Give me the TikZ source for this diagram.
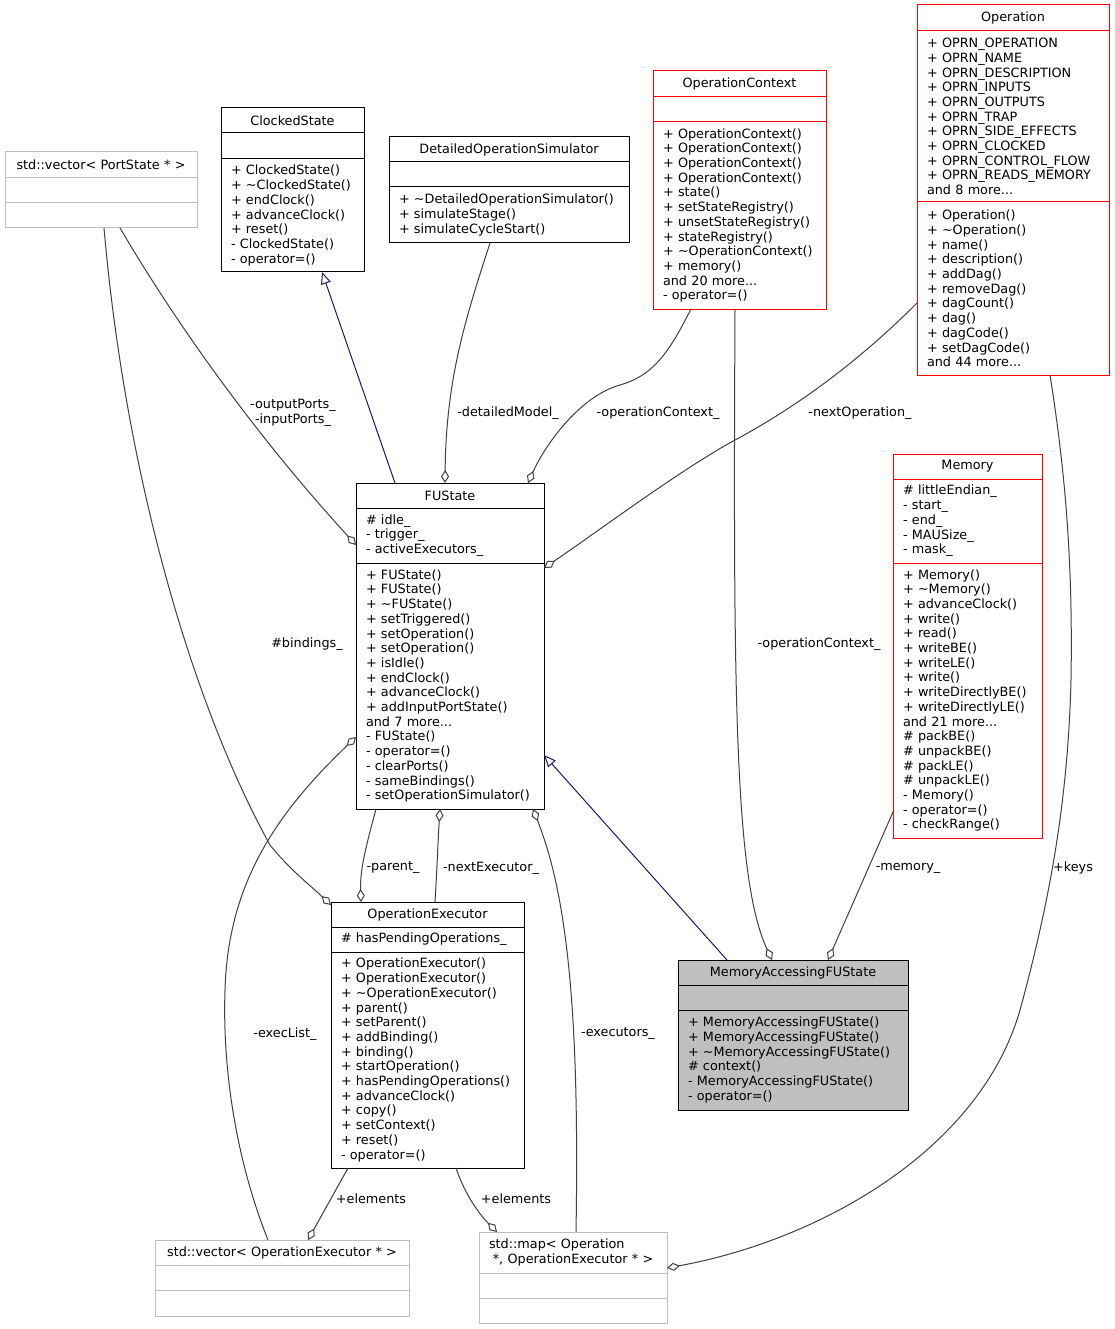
\documentclass[tikz,border=0pt]{standalone}
\usepackage{fontspec}
\setmainfont{DejaVu Sans}
\usepackage{xcolor}
\usepackage{tikz}
\usetikzlibrary{arrows.meta}

\definecolor{edgegray}{HTML}{404040}
\definecolor{boxgray}{HTML}{BFBFBF}
\definecolor{inhblue}{HTML}{191970}

\tikzset{
	clspart/.style={draw, line width=1pt, anchor=north west, outer sep=0pt, inner xsep=10pt, inner ysep=0pt, align=left},
	clsname/.style={clspart, align=center},
	agg/.style={draw=edgegray, line width=1pt, -{Diamond[open, length=13pt, width=8pt]}},
	inherit/.style={draw=inhblue, line width=1pt, -{Triangle[open, length=12pt, width=10pt]}},
	lbl/.style={inner sep=0pt, align=center}
}

\begin{document}
\begin{tikzpicture}[x=1pt, y=-1pt, every node/.style={font=\fontsize{12.8}{14.7}\selectfont}]
	\useasboundingbox (0,0) rectangle (1114,1329);

	%ClockedState
	\node[clsname, text width=123pt, minimum height=25pt] (clk) at (221,108) {ClockedState};
	\node[clspart, text width=123pt, minimum height=26pt] (clk-a) at (clk.south west) {};
	\node[clspart, text width=123pt, minimum height=113pt] (clk-m) at (clk-a.south west) {+ ClockedState()\\+ \textasciitilde ClockedState()\\+ endClock()\\+ advanceClock()\\+ reset()\\- ClockedState()\\- operator=()};

	%std::vector< PortState * >
	\node[clsname, draw=boxgray, text width=172pt, minimum height=26pt] (vps) at (5,152) {std::vector< PortState * >};
	\node[clspart, draw=boxgray, text width=172pt, minimum height=25pt] (vps-a) at (vps.south west) {};
	\node[clspart, draw=boxgray, text width=172pt, minimum height=25pt] (vps-m) at (vps-a.south west) {};

	%DetailedOperationSimulator
	\node[clsname, text width=220pt, minimum height=25pt] (dos) at (389,137) {DetailedOperationSimulator};
	\node[clspart, text width=220pt, minimum height=25pt] (dos-a) at (dos.south west) {};
	\node[clspart, text width=220pt, minimum height=56pt] (dos-m) at (dos-a.south west) {+ \textasciitilde DetailedOperationSimulator()\\+ simulateStage()\\+ simulateCycleStart()};

	%OperationContext
	\node[clsname, draw=red, text width=153pt, minimum height=26pt] (opc) at (653,71) {OperationContext};
	\node[clspart, draw=red, text width=153pt, minimum height=25pt] (opc-a) at (opc.south west) {};
	\node[clspart, draw=red, text width=153pt, minimum height=187pt] (opc-m) at (opc-a.south west) {+ OperationContext()\\+ OperationContext()\\+ OperationContext()\\+ OperationContext()\\+ state()\\+ setStateRegistry()\\+ unsetStateRegistry()\\+ stateRegistry()\\+ \textasciitilde OperationContext()\\+ memory()\\and 20 more...\\- operator=()};

	%Operation
	\node[clsname, draw=red, text width=172pt, minimum height=26pt] (op) at (917,5) {Operation};
	\node[clspart, draw=red, text width=172pt, minimum height=171pt] (op-a) at (op.south west) {+ OPRN\_OPERATION\\+ OPRN\_NAME\\+ OPRN\_DESCRIPTION\\+ OPRN\_INPUTS\\+ OPRN\_OUTPUTS\\+ OPRN\_TRAP\\+ OPRN\_SIDE\_EFFECTS\\+ OPRN\_CLOCKED\\+ OPRN\_CONTROL\_FLOW\\+ OPRN\_READS\_MEMORY\\and 8 more...};
	\node[clspart, draw=red, text width=172pt, minimum height=173pt] (op-m) at (op-a.south west) {+ Operation()\\+ \textasciitilde Operation()\\+ name()\\+ description()\\+ addDag()\\+ removeDag()\\+ dagCount()\\+ dag()\\+ dagCode()\\+ setDagCode()\\and 44 more...};

	%FUState
	\node[clsname, text width=168pt, minimum height=25pt] (fus) at (356,483) {FUState};
	\node[clspart, text width=168pt, minimum height=55pt] (fus-a) at (fus.south west) {\# idle\_\\- trigger\_\\- activeExecutors\_};
	\node[clspart, text width=168pt, minimum height=246pt] (fus-m) at (fus-a.south west) {+ FUState()\\+ FUState()\\+ \textasciitilde FUState()\\+ setTriggered()\\+ setOperation()\\+ setOperation()\\+ isIdle()\\+ endClock()\\+ advanceClock()\\+ addInputPortState()\\and 7 more...\\- FUState()\\- operator=()\\- clearPorts()\\- sameBindings()\\- setOperationSimulator()};

	%Memory
	\node[clsname, draw=red, text width=129pt, minimum height=25pt] (mem) at (893,454) {Memory};
	\node[clspart, draw=red, text width=129pt, minimum height=84pt] (mem-a) at (mem.south west) {\# littleEndian\_\\- start\_\\- end\_\\- MAUSize\_\\- mask\_};
	\node[clspart, draw=red, text width=129pt, minimum height=275pt] (mem-m) at (mem-a.south west) {+ Memory()\\+ \textasciitilde Memory()\\+ advanceClock()\\+ write()\\+ read()\\+ writeBE()\\+ writeLE()\\+ write()\\+ writeDirectlyBE()\\+ writeDirectlyLE()\\and 21 more...\\\# packBE()\\\# unpackBE()\\\# packLE()\\\# unpackLE()\\- Memory()\\- operator=()\\- checkRange()};

	%OperationExecutor
	\node[clsname, text width=173pt, minimum height=25pt] (oe) at (331,902) {OperationExecutor};
	\node[clspart, text width=173pt, minimum height=25pt] (oe-a) at (oe.south west) {\# hasPendingOperations\_};
	\node[clspart, text width=173pt, minimum height=216pt] (oe-m) at (oe-a.south west) {+ OperationExecutor()\\+ OperationExecutor()\\+ \textasciitilde OperationExecutor()\\+ parent()\\+ setParent()\\+ addBinding()\\+ binding()\\+ startOperation()\\+ hasPendingOperations()\\+ advanceClock()\\+ copy()\\+ setContext()\\+ reset()\\- operator=()};

	%MemoryAccessingFUState
	\node[clsname, fill=boxgray, text width=210pt, minimum height=25pt] (mafu) at (678,960) {MemoryAccessingFUState};
	\node[clspart, fill=boxgray, text width=210pt, minimum height=25pt] (mafu-a) at (mafu.south west) {};
	\node[clspart, fill=boxgray, text width=210pt, minimum height=100pt] (mafu-m) at (mafu-a.south west) {+ MemoryAccessingFUState()\\+ MemoryAccessingFUState()\\+ \textasciitilde MemoryAccessingFUState()\\\# context()\\- MemoryAccessingFUState()\\- operator=()};

	%std::vector< OperationExecutor * >
	\node[clsname, draw=boxgray, text width=234pt, minimum height=25pt] (voe) at (155,1240) {std::vector< OperationExecutor * >};
	\node[clspart, draw=boxgray, text width=234pt, minimum height=25pt] (voe-a) at (voe.south west) {};
	\node[clspart, draw=boxgray, text width=234pt, minimum height=26pt] (voe-m) at (voe-a.south west) {};

	%std::map< Operation *, OperationExecutor * >
	\node[clspart, draw=boxgray, text width=168pt, minimum height=41pt] (map) at (479,1232) {std::map< Operation\\\hspace{0.3em}*, OperationExecutor * >};
	\node[clspart, draw=boxgray, text width=168pt, minimum height=25pt] (map-a) at (map.south west) {};
	\node[clspart, draw=boxgray, text width=168pt, minimum height=25pt] (map-m) at (map-a.south west) {};

	%Inheritance
	\draw[inherit] ([xshift=39pt]fus.north west) -- ([xshift=101pt]clk-m.south west);
	\draw[inherit] ([xshift=49pt]mafu.north west) -- ([yshift=54pt]fus-m.south east);

	%Members
	\draw[agg] ([xshift=101pt]dos-m.south west) .. controls (465,320) and (446,380) .. ([xshift=89pt]fus.north west);
	\draw[agg] ([xshift=38pt]opc-m.south west) .. controls (670,350) and (655,375) .. (620,385) .. controls (580,396) and (545,445) .. ([xshift=172pt]fus.north west);
	\draw[agg] ([yshift=-101pt]op-m.north west) .. controls (860,360) and (800,405) .. (735,440) .. controls (680,470) and (600,530) .. ([yshift=-5pt]fus-m.north east);
	\draw[agg] ([xshift=115pt]vps-m.south west) .. controls (180,330) and (260,440) .. ([yshift=-37pt]fus-a.north west);
	\draw[agg] ([xshift=99pt]vps-m.south west) .. controls (125,470) and (190,700) .. (270,845) .. controls (290,870) and (310,885) .. ([yshift=-3pt]oe.north west);
	\draw[agg] ([xshift=82pt]opc-m.south west) .. controls (733,700) and (735,880) .. ([xshift=94pt]mafu.north west);
	\draw[agg] ([yshift=26pt]mem-m.south west) -- ([xshift=150pt]mafu.north west);
	\draw[agg] ([xshift=20pt]fus-m.south west) .. controls (365,850) and (360,870) .. ([xshift=30pt]oe.north west);
	\draw[agg] ([xshift=104pt]oe.north west) .. controls (437,870) and (438,840) .. ([xshift=84pt]fus-m.south west);
	\draw[agg] ([xshift=97pt]map.north west) .. controls (580,1000) and (565,890) .. ([xshift=177pt]fus-m.south west);
	\draw[agg] ([xshift=113pt]voe.north west) .. controls (240,1170) and (222,1080) .. (225,990) .. controls (228,880) and (280,810) .. ([yshift=72pt]fus-m.south west);
	\draw[agg] ([xshift=17pt]oe-m.south west) -- ([xshift=153pt]voe.north west);
	\draw[agg] ([xshift=125pt]oe-m.south west) .. controls (465,1195) and (480,1215) .. ([xshift=18pt]map.north west);
	\draw[agg] ([xshift=133pt]op-m.south west) .. controls (1065,470) and (1073,560) .. (1071,680) .. controls (1068,800) and (1050,900) .. (1020,1010) .. controls (980,1150) and (820,1240) .. ([yshift=5pt]map.south east);

	%Labels
	\node[lbl] (l-ports) at (293,413) {-outputPorts\_\\-inputPorts\_};
	\node[lbl] (l-model) at (508,413) {-detailedModel\_};
	\node[lbl] (l-ctx) at (658,413) {-operationContext\_};
	\node[lbl] (l-nextop) at (860,413) {-nextOperation\_};
	\node[lbl] (l-bind) at (307,644) {\#bindings\_};
	\node[lbl] (l-ctx2) at (819,644) {-operationContext\_};
	\node[lbl] (l-parent) at (393,868) {-parent\_};
	\node[lbl] (l-nextex) at (491,868) {-nextExecutor\_};
	\node[lbl] (l-mem) at (908,868) {-memory\_};
	\node[lbl] (l-keys) at (1073,868) {+keys};
	\node[lbl] (l-list) at (285,1034) {-execList\_};
	\node[lbl] (l-execs) at (618,1034) {-executors\_};
	\node[lbl] (l-elem1) at (371,1199) {+elements};
	\node[lbl] (l-elem2) at (516,1199) {+elements};
\end{tikzpicture}
\end{document}
